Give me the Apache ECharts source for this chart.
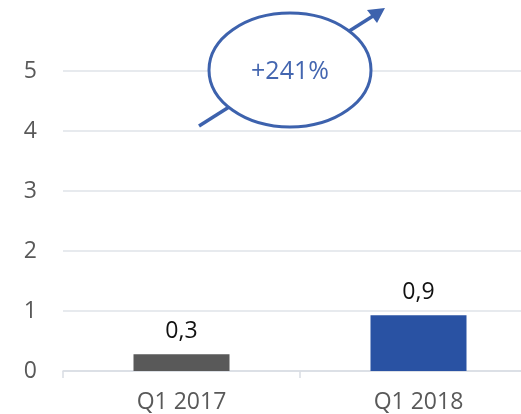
<html>
<head>
<meta charset="utf-8">
<script src="https://cdn.jsdelivr.net/npm/echarts@6/dist/echarts.min.js"></script>
</head>
<body style="margin:0;background:#fff">
<div id="chartmain" style="width:521px;height:414px"></div>
<script type="text/javascript">
    // data
    var categories = ['Q1 2017', 'Q1 2018'];
    var values = [0.28, 0.93];
    var barColors = ['#595959', '#2952a3'];
    var yTicks = [0, 1, 2, 3, 4, 5];
    var growthText = '+241%';

    var font = '"Open Sans", "Noto Sans", sans-serif';

    var option = {
        animation: false,
        backgroundColor: '#fff',
        grid: { left: 63, top: 71, width: 474, height: 300, containLabel: false, outerBoundsMode: 'none' },
        xAxis: {
            type: 'category',
            data: categories,
            axisLine: { lineStyle: { color: '#d9dde3', width: 1.5 } },
            axisTick: { show: true, length: 7, lineStyle: { color: '#d9dde3', width: 1.5 } },
            axisLabel: { color: '#595959', fontSize: 23, fontFamily: font, margin: 20 }
        },
        yAxis: {
            type: 'value',
            min: yTicks[0],
            max: yTicks[yTicks.length - 1],
            interval: 1,
            axisLine: { show: false },
            axisTick: { show: false },
            splitLine: { lineStyle: { color: '#dfe3e8', width: 1.5 } },
            axisLabel: { color: '#595959', fontSize: 23, fontFamily: font, margin: 26 }
        },
        series: [{
            type: 'bar',
            barWidth: 96,
            data: values.map(function (v, i) {
                return { value: v, itemStyle: { color: barColors[i] } };
            }),
            label: {
                show: true,
                position: 'top',
                distance: 11,
                color: '#111',
                fontSize: 23,
                fontFamily: font,
                formatter: function (p) { return p.value.toFixed(1).replace('.', ','); }
            }
        }],
        graphic: [
            {   // arrow shaft
                type: 'line', z: 10,
                shape: { x1: 199, y1: 126, x2: 373, y2: 16 },
                style: { stroke: '#3d62ad', lineWidth: 3.5 }
            },
            {   // arrow head
                type: 'polygon', z: 10,
                shape: { points: [[385, 8], [377, 23], [367, 10]] },
                style: { fill: '#3d62ad' }
            },
            {
                type: 'ellipse', z: 11,
                shape: { cx: 290, cy: 70, rx: 81, ry: 57 },
                style: { fill: '#fff', stroke: '#3d62ad', lineWidth: 3 }
            },
            {
                type: 'text', z: 12,
                x: 290, y: 72,
                style: {
                    text: growthText, fill: '#4466b0', fontSize: 25, fontFamily: font,
                    align: 'center', verticalAlign: 'middle'
                }
            }
        ]
    };

    var myChart = echarts.init(document.getElementById('chartmain'));
    myChart.setOption(option);
</script>
</body>
</html>
